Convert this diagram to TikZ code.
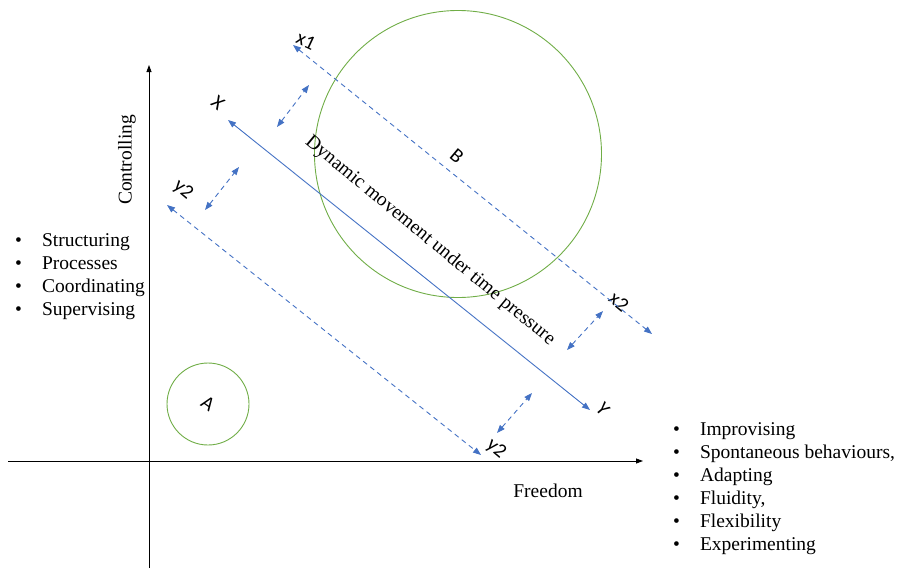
\documentclass[tikz,border=0pt]{standalone}
\usepackage{fontspec}
\setmainfont{Liberation Serif}
\newfontfamily\labelfont{Carlito}
\usepackage{tikz}
\usetikzlibrary{arrows.meta,positioning}

\definecolor{lineblue}{HTML}{4472C4}
\definecolor{ringgreen}{HTML}{70AD47}

\tikzset{
  axis/.style={draw=black, line width=0.8pt, -{Triangle[length=7pt,width=5pt]}},
  mainline/.style={draw=lineblue, line width=0.9pt, {Triangle[length=8pt,width=6pt]}-{Triangle[length=8pt,width=6pt]}},
  dline/.style={draw=lineblue, line width=0.9pt, dashed, dash pattern=on 5pt off 4pt, {Triangle[length=8pt,width=6pt]}-{Triangle[length=8pt,width=6pt]}},
  ring/.style={circle, draw=ringgreen, line width=0.9pt, inner sep=0pt},
  tag/.style={font=\labelfont\fontsize{20}{20}\selectfont, inner sep=1pt},
  words/.style={font=\fontsize{19.5}{23}\selectfont, inner sep=0pt},
  bulletlist/.style={font=\fontsize{19.5}{23}\selectfont, inner sep=0pt, anchor=north west}
}

\begin{document}
\begin{tikzpicture}[x=1pt, y=-1pt]
  \useasboundingbox (0,0) rectangle (899,571);

  % Define nodes
  \coordinate (xaxisL) at (8,461);
  \coordinate (xaxisR) at (643,461);
  \coordinate (yaxisB) at (149,568);
  \coordinate (yaxisT) at (149,65);

  \node[words, rotate=90] (controlling) at (127,160) {Controlling};
  \node[words] (freedom) at (548,491) {Freedom};

  \node[ring, minimum size=82pt] (ringA) at (208,404) {};
  \node[ring, minimum size=287pt] (ringB) at (458,154) {};
  \node[tag, rotate=-35] (labA) at (208,404) {A};
  \node[tag, rotate=-40] (labB) at (457,156) {B};

  \coordinate (Xend) at (228,120);
  \coordinate (Yend) at (590,410);
  \coordinate (x1end) at (293,45);
  \coordinate (x2end) at (652,334);
  \coordinate (y2top) at (167,205);
  \coordinate (y2bot) at (481,455);

  \coordinate (gapA1) at (277,127);
  \coordinate (gapA2) at (309,85);
  \coordinate (gapB1) at (205,210);
  \coordinate (gapB2) at (239,167);
  \coordinate (gapC1) at (567,350);
  \coordinate (gapC2) at (603,311);
  \coordinate (gapD1) at (497,433);
  \coordinate (gapD2) at (532,393);

  \node[tag, rotate=-25] (labx1) at (306,41) {x1};
  \node[tag, rotate=-40] (labX) at (218,103) {X};
  \node[tag, rotate=-40] (laby2top) at (183,190) {y2};
  \node[tag, rotate=-40] (labx2) at (619,302) {x2};
  \node[tag, rotate=-50] (labY) at (603,409) {Y};
  \node[tag, rotate=-40] (laby2bot) at (496,449) {y2};

  \node[words, rotate=-39.5] (dynamic) at (430,241) {Dynamic movement under time pressure};

  \node[bulletlist] (leftlist) at (15,230) {%
    \begin{tabular}{@{}l@{\hspace{20pt}}l@{}}
      \textbullet & Structuring\\
      \textbullet & Processes\\
      \textbullet & Coordinating\\
      \textbullet & Supervising
    \end{tabular}};
  \node[bulletlist] (rightlist) at (673,419) {%
    \begin{tabular}{@{}l@{\hspace{20pt}}l@{}}
      \textbullet & Improvising\\
      \textbullet & Spontaneous behaviours,\\
      \textbullet & Adapting\\
      \textbullet & Fluidity,\\
      \textbullet & Flexibility\\
      \textbullet & Experimenting
    \end{tabular}};

  % Connect the nodes
  \draw[axis] (xaxisL) -- (xaxisR);
  \draw[axis] (yaxisB) -- (yaxisT);

  \draw[mainline] (Xend) -- (Yend);
  \draw[dline] (x1end) -- (x2end);
  \draw[dline] (y2top) -- (y2bot);

  \draw[dline] (gapA1) -- (gapA2);
  \draw[dline] (gapB1) -- (gapB2);
  \draw[dline] (gapC1) -- (gapC2);
  \draw[dline] (gapD1) -- (gapD2);

\end{tikzpicture}
\end{document}
